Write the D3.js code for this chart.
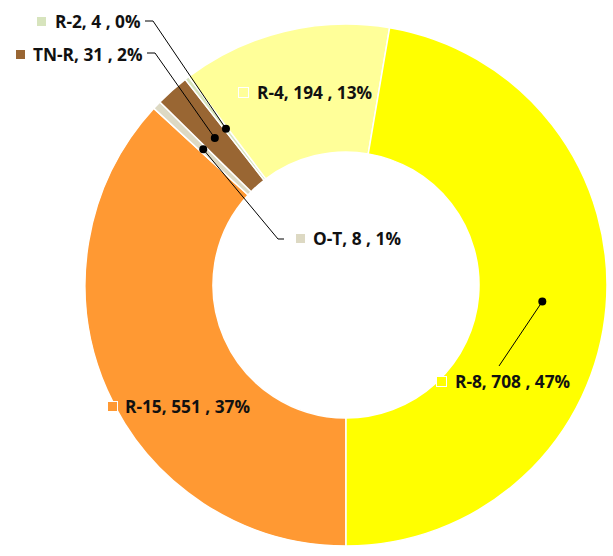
<!DOCTYPE html>
<html><head><meta charset="utf-8">
<script src="https://cdn.jsdelivr.net/npm/d3@7"></script>
<style>
html,body{margin:0;padding:0;background:#fff;}
text{font-family:"Open Sans","Liberation Sans",sans-serif;font-weight:bold;font-size:17.3px;fill:#111;}
</style></head>
<body><svg id="c" width="613" height="556"></svg>
<script>
// Data (order as drawn clockwise starting at 6 o'clock)
const categories = ["R-15", "O-T", "TN-R", "R-2", "R-4", "R-8"];
const values = [551, 8, 31, 4, 194, 708];
const colors = ["#FF9933", "#DDD9C3", "#996633", "#D7E4BD", "#FFFF99", "#FFFF00"];

// Label layout: square x, text x, baseline y, leader path points (screen coords)
const labelLayout = {
  "R-15": {sx:107, tx:125, by:413, leader:null},
  "O-T":  {sx:295, tx:313, by:245, leader:[[278,239],[284,239]]},
  "TN-R": {sx:15,  tx:33,  by:61,  leader:[[155,53],[147,53]]},
  "R-2":  {sx:36,  tx:55,  by:28,  leader:[[153,21],[145,21]]},
  "R-4":  {sx:238, tx:257, by:99,  leader:null},
  "R-8":  {sx:436, tx:455, by:388, leader:[[499,366]]}
};

const cx = 346, cy = 285, R = 261, r0 = 133;
const svg = d3.select("#c");
const total = d3.sum(values);
const data = categories.map((c,i)=>({cat:c, value:values[i], color:colors[i]}));

const pie = d3.pie().value(d=>d.value).sort(null)
  .startAngle(Math.PI).endAngle(3*Math.PI);
const arcs = pie(data);
const arc = d3.arc().innerRadius(r0).outerRadius(R);
const g = svg.append("g").attr("transform",`translate(${cx},${cy})`);
g.selectAll("path").data(arcs).enter().append("path")
  .attr("d",arc).attr("fill",d=>d.data.color)
  .attr("stroke","#fff").attr("stroke-width",1.5);

// leader lines and dots
arcs.forEach(a=>{
  const L = labelLayout[a.data.cat];
  if(!L.leader) return;
  const c = arc.centroid(a);
  const p0 = [cx+c[0], cy+c[1]];
  const pts = [p0, ...L.leader];
  svg.append("path").attr("d", d3.line()(pts))
    .attr("fill","none").attr("stroke","#000").attr("stroke-width",1);
  svg.append("circle").attr("cx",p0[0]).attr("cy",p0[1]).attr("r",4).attr("fill","#000");
});

// labels
arcs.forEach(a=>{
  const d = a.data, L = labelLayout[d.cat];
  const pct = Math.round(d.value/total*100);
  svg.append("rect").attr("x",L.sx+0.5).attr("y",L.by-11.5).attr("width",10).attr("height",10)
    .attr("fill",d.color).attr("stroke","#fff").attr("stroke-width",1);
  svg.append("text").attr("x",L.tx).attr("y",L.by)
    .text(`${d.cat}, ${d.value} , ${pct}%`);
});
</script></body></html>
